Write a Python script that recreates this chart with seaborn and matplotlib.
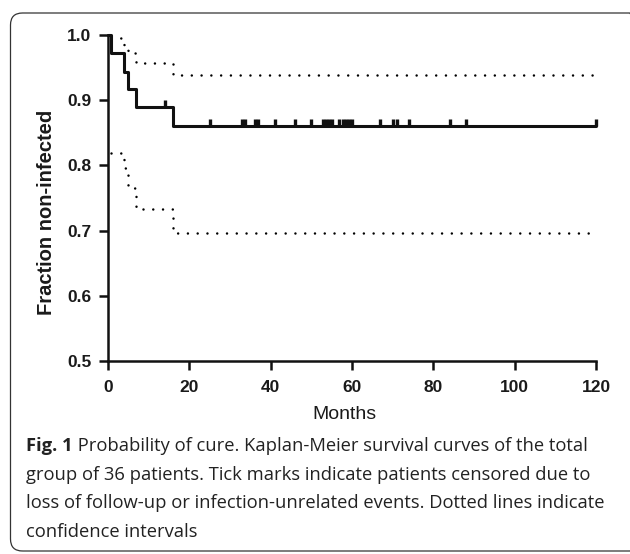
import numpy as np
import pandas as pd
import matplotlib
matplotlib.use("Agg")
import matplotlib.pyplot as plt
import seaborn as sns
from matplotlib.patches import FancyBboxPatch

# Kaplan-Meier estimate (steps at event times)
event_months = [0, 0.8, 4, 5, 7, 16, 120]
survival = [1.0, 0.972, 0.944, 0.917, 0.889, 0.860, 0.860]

# confidence band (dotted)
upper_months = [0.8, 4, 5, 7, 16, 120]
upper_ci = [0.996, 0.985, 0.972, 0.957, 0.939, 0.939]
lower_months = [0.8, 4, 5, 7, 16, 120]
lower_ci = [0.819, 0.796, 0.766, 0.733, 0.696, 0.696]

# censored patients (tick marks)
censored_months = [14, 25, 33, 33.8, 36.2, 37, 41, 46, 50, 52.9, 53.6, 54.4,
                   55.1, 56.9, 57.7, 58.5, 59.3, 60.1, 67, 70, 71.1, 74, 84,
                   88, 120]

x_ticks = [0, 20, 40, 60, 80, 100, 120]
y_ticks = [0.5, 0.6, 0.7, 0.8, 0.9, 1.0]

caption_bold = "Fig. 1"
caption_lines = [
    " Probability of cure. Kaplan-Meier survival curves of the total",
    "group of 36 patients. Tick marks indicate patients censored due to",
    "loss of follow-up or infection-unrelated events. Dotted lines indicate",
    "confidence intervals",
]

sns.set_style("ticks")
plt.rcParams['font.family'] = ['Liberation Sans', 'DejaVu Sans']

W, H = 630, 554
fig = plt.figure(figsize=(W / 100, H / 100), dpi=100, facecolor='white')
ax = fig.add_axes([108 / W, 1 - 361 / H, (596 - 108) / W, (361 - 35) / H])

km = pd.DataFrame({'month': event_months, 'surv': survival})
up = pd.DataFrame({'month': upper_months, 'ci': upper_ci})
lo = pd.DataFrame({'month': lower_months, 'ci': lower_ci})

dots = (0, (0.01, 3.9))
for band in [up, lo]:
    sns.lineplot(data=band, x='month', y='ci', ax=ax, color='black', lw=1.8,
                 drawstyle='steps-post', linestyle=dots, dash_capstyle='round',
                 estimator=None, clip_on=False)
sns.lineplot(data=km, x='month', y='surv', ax=ax, color='#111111', lw=2.2,
             drawstyle='steps-post', estimator=None, clip_on=False)

# censor marks sit on the curve
idx = np.searchsorted(event_months, censored_months, side='right') - 1
cens = pd.DataFrame({'month': censored_months,
                     'surv': np.array(survival)[idx]})
sns.scatterplot(data=cens, x='month', y='surv', ax=ax,
                marker=[(0, 0), (0, 1)], s=100, color='#111111',
                edgecolor='#111111', linewidth=2.4, clip_on=False, zorder=5)

ax.set_xlim(0, 120)
ax.set_ylim(0.5, 1.0)
ax.set_xticks(x_ticks)
ax.set_yticks(y_ticks)
ax.set_yticklabels([f"{v:.1f}" for v in y_ticks])
for s in ['top', 'right']:
    ax.spines[s].set_visible(False)
for s in ['left', 'bottom']:
    ax.spines[s].set_linewidth(1.8)
    ax.spines[s].set_color('#111111')
ax.tick_params(axis='both', direction='out', length=6.5, width=1.8,
               color='#111111', labelsize=12.5, labelcolor='#1a1a1a')
ax.tick_params(axis='y', pad=5.5)
ax.tick_params(axis='x', pad=7)
for lab in ax.get_xticklabels() + ax.get_yticklabels():
    lab.set_fontweight('bold')

ax.set_xlabel('Months', fontsize=14, color='#1a1a1a')
ax.set_ylabel('Fraction non-infected', fontsize=14.5, fontweight='bold',
              color='#1a1a1a')
ax.xaxis.set_label_coords(0.484, -0.138)
ax.yaxis.set_label_coords(-0.106, 0.457)

# rounded frame around figure + caption (right edge runs off the image)
frame = FancyBboxPatch((0.105, 0.03), 6.31, 5.38,
                       boxstyle="round,pad=0,rounding_size=0.12",
                       transform=fig.dpi_scale_trans, fill=False,
                       edgecolor='#333333', linewidth=0.9)
fig.patches.append(frame)

cap_font = ['Open Sans', 'DejaVu Sans']
cap_size = 13.25
x0 = 26 / W
base = [451, 480, 508, 537]
t = fig.text(x0, 1 - base[0] / H, caption_bold, family=cap_font,
             fontweight='bold', fontsize=cap_size, color='#222222',
             va='baseline', ha='left')
fig.canvas.draw()
bb = t.get_window_extent(renderer=fig.canvas.get_renderer())
fig.text(bb.x1 / W, 1 - base[0] / H, caption_lines[0], family=cap_font,
         fontsize=cap_size, color='#222222', va='baseline', ha='left')
for line, b in zip(caption_lines[1:], base[1:]):
    fig.text(x0, 1 - b / H, line, family=cap_font, fontsize=cap_size,
             color='#222222', va='baseline', ha='left')

fig.savefig('out.png', dpi=100, facecolor='white')
